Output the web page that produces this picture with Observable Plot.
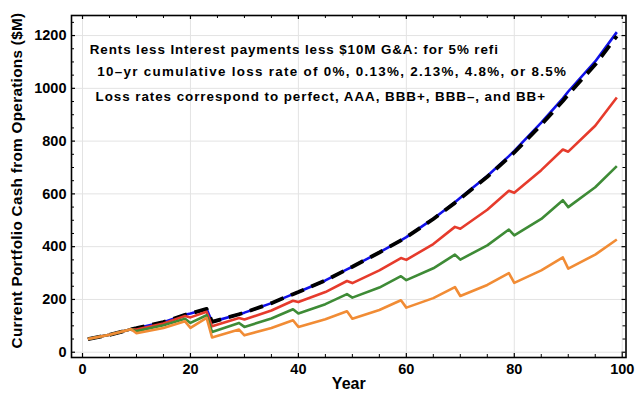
<!DOCTYPE html>
<html><head><meta charset="utf-8">
<script src="https://cdn.jsdelivr.net/npm/d3@7"></script>
<script src="https://cdn.jsdelivr.net/npm/@observablehq/plot@0.6"></script>
<style>
html,body{margin:0;padding:0;background:#fff;}
#chart svg{display:block;}
</style>
</head><body><div id="chart"></div>
<script>
// ---- data ----
const years    = [1, 5, 9, 10, 15, 19, 20, 23, 24, 29, 30, 35, 39, 40, 45, 49, 50, 55, 59, 60, 65, 69, 70, 75, 79, 80, 85, 89, 90, 95, 99];
const perfect  = [50, 66, 87, 91, 114, 142, 147, 164, 115, 144, 150, 186, 220, 228, 272, 314, 324, 378, 424, 436, 505, 566, 582, 665, 738, 757, 862, 952, 977, 1090, 1198];
const aaa      = [50, 66, 87, 91, 114, 142, 147, 164, 115, 144, 150, 186, 220, 228, 272, 314, 324, 378, 424, 436, 506, 568, 585, 668, 743, 763, 870, 962, 988, 1102, 1213];
const bbbPlus  = [50, 66, 87, 86, 109, 137, 132, 153, 98, 130, 124, 158, 195, 190, 228, 270, 262, 310, 357, 350, 410, 475, 468, 540, 612, 604, 690, 768, 760, 858, 965];
const bbbMinus = [50, 66, 87, 80, 102, 127, 111, 140, 77, 111, 96, 128, 163, 147, 182, 220, 207, 245, 288, 273, 318, 370, 351, 405, 465, 443, 505, 576, 550, 625, 705];
const bbPlus   = [50, 66, 87, 72, 92, 117, 92, 130, 56, 86, 64, 92, 121, 96, 125, 155, 127, 160, 197, 169, 205, 247, 213, 255, 300, 263, 310, 359, 317, 370, 427];

const xMajorTicks = [0, 20, 40, 60, 80, 100];
const xMinorTicks = [5, 10, 15, 25, 30, 35, 45, 50, 55, 65, 70, 75, 85, 90, 95];
const yMajorTicks = [0, 200, 400, 600, 800, 1000, 1200];
const yMinorTicks = [50, 100, 150, 250, 300, 350, 450, 500, 550, 650, 700, 750, 850, 900, 950, 1050, 1100, 1150, 1250];

const annotationLines = [
  "Rents less Interest payments less $10M G&A: for 5% refi",
  "10\u2013yr cumulative loss rate of 0%, 0.13%, 2.13%, 4.8%, or 8.5%",
  "Loss rates correspond to perfect, AAA, BBB+, BBB\u2013, and BB+"
];
const annotationTracking = ["0.9px", "1.3px", "0.95px"];
const xLabel = "Year";
const yLabel = "Current Portfolio Cash from Operations ($M)";

// ---- build tables ----
const toRows = (vals) => years.map((yr, i) => ({year: yr, value: vals[i]}));

const W = 640, H = 404;
const mL = 71, mR = 14.5, mT = 15, mB = 47;
const frameH = H - mT - mB, frameW = W - mL - mR;
const font = "'Liberation Sans', Arial, Helvetica, sans-serif";

function lineMark(vals, stroke, sw, dash) {
  return Plot.line(toRows(vals), {
    x: "year", y: "value", stroke, strokeWidth: sw,
    strokeDasharray: dash, strokeLinejoin: "round", strokeLinecap: "butt"
  });
}

const annotStyle = {frameAnchor: "top-left", textAnchor: "start", lineAnchor: "middle", fontSize: 13.4, fontWeight: "bold"};

const chart = Plot.plot({
  width: W, height: H,
  marginLeft: mL, marginRight: mR, marginTop: mT, marginBottom: mB,
  style: {fontFamily: font, background: "#fff", color: "#000"},
  x: {domain: [-2.04, 100.7]},
  y: {domain: [-20, 1276]},
  marks: [
    Plot.gridX(xMajorTicks, {stroke: "#e3e3e3", strokeOpacity: 1, strokeWidth: 1}),
    Plot.gridY(yMajorTicks, {stroke: "#e3e3e3", strokeOpacity: 1, strokeWidth: 1}),
    // inward frame ticks
    Plot.tickX(xMajorTicks, {x: d => d, insetTop: frameH - 4, strokeWidth: 1.2}),
    Plot.tickX(xMinorTicks, {x: d => d, insetTop: frameH - 3, strokeWidth: 1}),
    Plot.tickX(xMajorTicks, {x: d => d, insetBottom: frameH - 4, strokeWidth: 1.2}),
    Plot.tickX(xMinorTicks, {x: d => d, insetBottom: frameH - 3, strokeWidth: 1}),
    Plot.tickY(yMajorTicks, {y: d => d, insetRight: frameW - 4, strokeWidth: 1.2}),
    Plot.tickY(yMinorTicks, {y: d => d, insetRight: frameW - 3, strokeWidth: 1}),
    Plot.tickY(yMajorTicks, {y: d => d, insetLeft: frameW - 4, strokeWidth: 1.2}),
    Plot.tickY(yMinorTicks, {y: d => d, insetLeft: frameW - 3, strokeWidth: 1}),
    Plot.axisX(xMajorTicks, {tickSize: 0, tickPadding: 6, fontSize: 14.5, fontWeight: "bold", label: null, tickFormat: d => String(d)}),
    Plot.axisY(yMajorTicks, {tickSize: 0, tickPadding: 5, fontSize: 14.5, fontWeight: "bold", label: null, tickFormat: d => String(d)}),
    // series
    lineMark(aaa, "#1010e8", 2.6),
    lineMark(perfect, "#000000", 3.8, "14,8"),
    lineMark(bbbPlus, "#e63b2c", 2.6),
    lineMark(bbbMinus, "#3e8b36", 2.6),
    lineMark(bbPlus, "#f18c35", 2.6),
    Plot.frame({stroke: "#000", strokeWidth: 1.6}),
    // annotations
    Plot.text([annotationLines[0]], {...annotStyle, dx: 18.3, dy: 34}),
    Plot.text([annotationLines[1]], {...annotStyle, dx: 25.7, dy: 56.5}),
    Plot.text([annotationLines[2]], {...annotStyle, dx: 24, dy: 81}),
    // axis titles
    Plot.text([xLabel], {frameAnchor: "bottom", dy: 31, fontSize: 16, fontWeight: "bold"}),
    Plot.text([yLabel], {frameAnchor: "left", textAnchor: "middle", rotate: -90, dx: -54, dy: -6, fontSize: 15.3, fontWeight: "bold"})
  ]
});
// wider tracking for the annotation lines and y title, as in the reference
d3.select(chart).selectAll("text")
  .each(function() {
    const i = annotationLines.indexOf(this.textContent);
    if (i >= 0) this.style.letterSpacing = annotationTracking[i];
    if (this.textContent === yLabel) this.style.letterSpacing = "0.3px";
  });
document.getElementById("chart").appendChild(chart);
</script>
</body></html>
